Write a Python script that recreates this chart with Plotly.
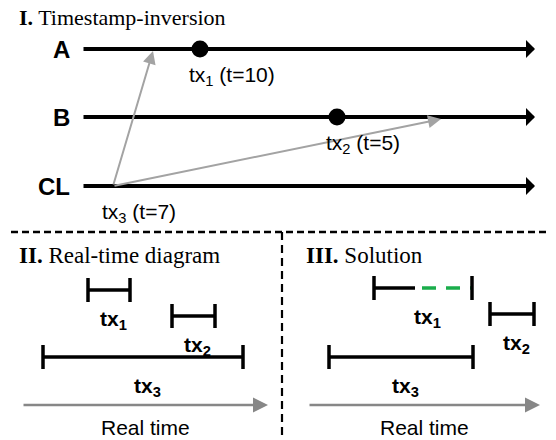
import plotly.graph_objects as go

# ---------------- data ----------------
# Panel I: process timelines and transactions
rows = ["A", "B", "CL"]
row_level = [49, 117, 186]
timeline_start = 82
timeline_end = 535

event_names = ["tx<sub>1</sub>", "tx<sub>2</sub>", "tx<sub>3</sub>"]
event_rows = ["A", "B", "CL"]
event_x = [200, 337, 113]
event_t = [10, 5, 7]
event_has_dot = [True, True, False]

msg_source = "tx<sub>3</sub>"
msg_target_rows = ["A", "B"]
msg_target_x = [153, 441]

# Panel II: real-time diagram intervals
rt_names = ["tx<sub>1</sub>", "tx<sub>2</sub>", "tx<sub>3</sub>"]
rt_start = [88, 172, 43]
rt_end = [130, 215, 243]
rt_level = [290, 316, 357]
rt_axis = [22, 268]

# Panel III: solution intervals
sol_names = ["tx<sub>1</sub>", "tx<sub>2</sub>", "tx<sub>3</sub>"]
sol_start = [374, 490, 329]
sol_solid_end = [415, 534, 473]
sol_end = [472, 534, 473]
sol_level = [288, 314, 357]
sol_axis = [308, 540]

axis_level = 405
sep_h = 232
sep_v = 282

# ---------------- styles ----------------
W, H = 556, 440
OFF = 8  # page body margin of the browser
SANS = "Liberation Sans, Arial, sans-serif"
SERIF = "Liberation Serif, Times New Roman, serif"
BLACK = "#000000"
GRAY1 = "#a3a3a3"
GRAY2 = "#878787"
GREEN = "#1aad4b"

fig = go.Figure()
shapes = []
ann = []

row_y = dict(zip(rows, row_level))

# Titles
ann.append(dict(x=17, y=17, text="<b>I.</b> Timestamp-inversion", xanchor="left", yanchor="middle",
                font=dict(family=SERIF, size=22, color=BLACK)))
ann.append(dict(x=17, y=255, text="<b>II.</b> Real-time diagram", xanchor="left", yanchor="middle",
                font=dict(family=SERIF, size=23, color=BLACK)))
ann.append(dict(x=sep_v + 22, y=255, text="<b>III.</b> Solution", xanchor="left", yanchor="middle",
                font=dict(family=SERIF, size=23, color=BLACK)))

# Panel I timelines
for name, yv in zip(rows, row_level):
    ann.append(dict(x=timeline_end, y=yv, ax=timeline_start, ay=yv, axref="x", ayref="y",
                    text="", showarrow=True, arrowhead=1, arrowsize=0.75, arrowwidth=4,
                    arrowcolor=BLACK, standoff=0, startstandoff=0))
    ann.append(dict(x=timeline_start - 10, y=yv, text="<b>%s</b>" % name, xanchor="right",
                    yanchor="middle", showarrow=False,
                    font=dict(family=SANS, size=24, color=BLACK)))

# Message arrows from tx3
src_x = event_x[event_names.index(msg_source)]
src_y = row_y[event_rows[event_names.index(msg_source)]]
for r, tx in zip(msg_target_rows, msg_target_x):
    ann.append(dict(x=tx, y=row_y[r] + 2, ax=src_x, ay=src_y, axref="x", ayref="y",
                    text="", showarrow=True, arrowhead=2, arrowsize=1.3, arrowwidth=2,
                    arrowcolor=GRAY1, standoff=0, startstandoff=0))

# Events
dot_x = [x for x, d in zip(event_x, event_has_dot) if d]
dot_y = [row_y[r] for r, d in zip(event_rows, event_has_dot) if d]
fig.add_trace(go.Scatter(x=dot_x, y=dot_y, mode="markers",
                         marker=dict(size=17, color=BLACK), hoverinfo="skip", showlegend=False))
for n, r, x, t in zip(event_names, event_rows, event_x, event_t):
    ann.append(dict(x=x - 13, y=row_y[r] + 27, text="%s (t=%d)" % (n, t), xanchor="left",
                    yanchor="middle", showarrow=False,
                    font=dict(family=SANS, size=21, color=BLACK)))

# Separators
shapes.append(dict(type="line", x0=0, x1=W, y0=sep_h, y1=sep_h, xref="x", yref="y",
                   line=dict(color=BLACK, width=2.5, dash="7px,4px")))
shapes.append(dict(type="line", x0=sep_v, x1=sep_v, y0=sep_h, y1=H, xref="x", yref="y",
                   line=dict(color=BLACK, width=2.2, dash="8px,5px")))

CAP = 12


def interval(x0, x1, yv, solid_end=None):
    se = x1 if solid_end is None else solid_end
    shapes.append(dict(type="line", x0=x0, x1=se, y0=yv, y1=yv, xref="x", yref="y",
                       line=dict(color=BLACK, width=3.5)))
    if se < x1:
        shapes.append(dict(type="line", x0=se + 7, x1=x1, y0=yv, y1=yv, xref="x", yref="y",
                           line=dict(color=GREEN, width=3.5, dash="14px,10px")))
    for xc in (x0, x1):
        shapes.append(dict(type="line", x0=xc, x1=xc, y0=yv - CAP, y1=yv + CAP, xref="x", yref="y",
                           line=dict(color=BLACK, width=3.5)))


def label(x, y, text):
    ann.append(dict(x=x, y=y, text="<b>%s</b>" % text, xanchor="center", yanchor="middle",
                    showarrow=False, font=dict(family=SANS, size=21, color=BLACK)))


for n, a, b, yv in zip(rt_names, rt_start, rt_end, rt_level):
    interval(a, b, yv)
    label((a + b) / 2 + 4, yv + 30, n)

for n, a, se, b, yv in zip(sol_names, sol_start, sol_solid_end, sol_end, sol_level):
    interval(a, b, yv, se)
    label((a + b) / 2 + 4, yv + 30, n)

# Real-time axes
for ax_pair in (rt_axis, sol_axis):
    ann.append(dict(x=ax_pair[1], y=axis_level, ax=ax_pair[0], ay=axis_level, axref="x", ayref="y",
                    text="", showarrow=True, arrowhead=2, arrowsize=1.2, arrowwidth=2.5,
                    arrowcolor=GRAY2, standoff=0, startstandoff=0))
    ann.append(dict(x=(ax_pair[0] + ax_pair[1]) / 2, y=axis_level + 22, text="Real time",
                    xanchor="center", yanchor="middle", showarrow=False,
                    font=dict(family=SANS, size=21, color=BLACK)))

for a in ann:
    a.setdefault("xref", "x")
    a.setdefault("yref", "y")
    a.setdefault("showarrow", False)

fig.update_layout(
    width=W - OFF, height=H - OFF,
    margin=dict(l=0, r=0, t=0, b=0),
    paper_bgcolor="white", plot_bgcolor="white",
    xaxis=dict(range=[OFF, W], visible=False, fixedrange=True),
    yaxis=dict(range=[H, OFF], visible=False, fixedrange=True),
    shapes=shapes, annotations=ann, showlegend=False,
)

fig.write_html("out.html")
